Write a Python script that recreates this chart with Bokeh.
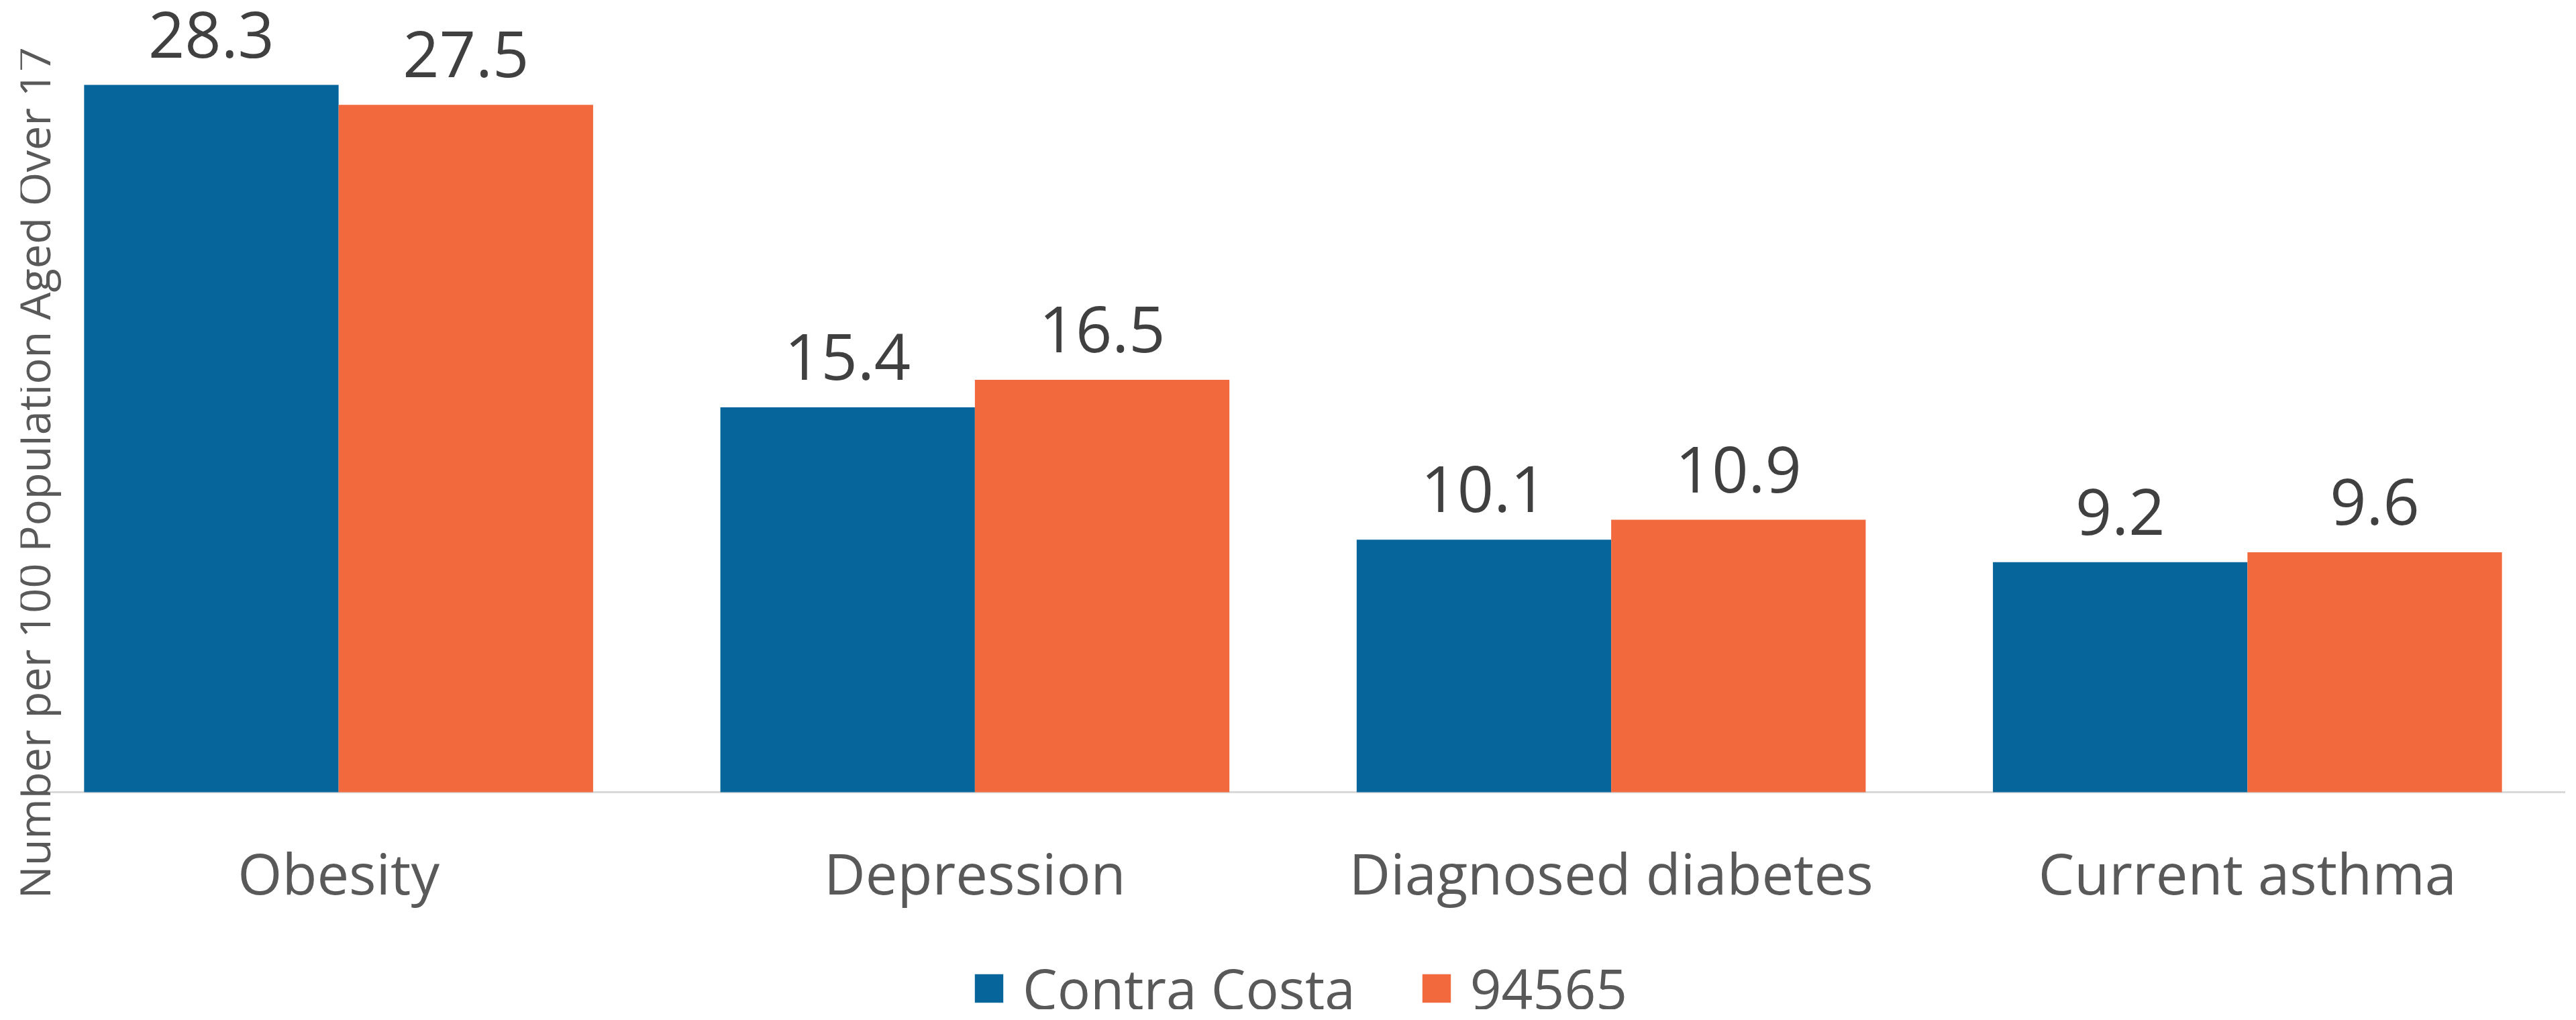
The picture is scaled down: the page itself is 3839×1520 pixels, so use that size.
import math
from bokeh.plotting import figure
from bokeh.models import (ColumnDataSource, FactorRange, Range1d, LabelSet, Label,
                          Legend, LegendItem, Span)
from bokeh.core.properties import value
from bokeh.transform import dodge
from bokeh.embed import file_html
from bokeh.resources import INLINE

categories = ["Obesity", "Depression", "Diagnosed diabetes", "Current asthma"]
contra_costa = [28.3, 15.4, 10.1, 9.2]
zip_94565 = [27.5, 16.5, 10.9, 9.6]
series_names = ["Contra Costa", "94565"]
y_label = "Number per 100 Population Aged Over 17"

BLUE = "#06659B"
ORANGE = "#F1693C"
FONT = "Open Sans"

src = ColumnDataSource(dict(
    cat=categories,
    a=contra_costa,
    b=zip_94565,
    a_txt=[f"{v:.1f}" for v in contra_costa],
    b_txt=[f"{v:.1f}" for v in zip_94565],
))

# frame covers the figure; the area below zero holds category labels and legend
p = figure(
    x_range=FactorRange(*categories, range_padding=0),
    y_range=Range1d(-8.70, 31.47),
    width=3823, height=1504,
    output_backend="svg", toolbar_location=None,
    min_border_left=30, min_border_right=0, min_border_top=8, min_border_bottom=0,
)
p.outline_line_color = None
p.background_fill_color = "white"
p.border_fill_color = "white"
p.xgrid.grid_line_color = None
p.ygrid.grid_line_color = None
p.xaxis.visible = False
p.yaxis.visible = False

p.add_layout(Span(location=0, dimension="width", line_color="#D9D9D9",
                  line_width=3, level="underlay"))

r1 = p.vbar(x=dodge("cat", -0.2, range=p.x_range), top="a", width=0.4, source=src,
            fill_color=BLUE, line_color=None)
r2 = p.vbar(x=dodge("cat", 0.2, range=p.x_range), top="b", width=0.4, source=src,
            fill_color=ORANGE, line_color=None)

for col, txt, off in (("a", "a_txt", -0.2), ("b", "b_txt", 0.2)):
    p.add_layout(LabelSet(x=dodge("cat", off, range=p.x_range), y=col, text=txt, source=src,
                          text_align="center", text_baseline="alphabetic", y_offset=41,
                          text_font=value(FONT), text_font_size=value("95px"),
                          text_color=value("#404040")))

# category labels under the baseline
p.add_layout(LabelSet(x="cat", y=0, text="cat", source=src,
                      text_align="center", text_baseline="alphabetic", y_offset=-153,
                      text_font=value(FONT), text_font_size=value("85px"),
                      text_color=value("#595959")))

p.add_layout(Label(x=0, y=12.78, x_offset=19, text=y_label, angle=math.pi / 2,
                   text_align="center", text_baseline="alphabetic",
                   text_font=FONT, text_font_size="65px", text_color="#595959"))

legend = Legend(items=[LegendItem(label=series_names[0], renderers=[r1]),
                       LegendItem(label=series_names[1], renderers=[r2])],
                orientation="horizontal", location=(1417, -28),
                glyph_width=53, glyph_height=53, label_height=120,
                label_text_font=FONT,
                label_text_font_size="82px", label_text_color="#595959",
                label_standoff=24, spacing=94, padding=0, margin=0,
                border_line_color=None, background_fill_alpha=0)
p.add_layout(legend, "center")

open("out.html", "w").write(file_html(p, INLINE))
